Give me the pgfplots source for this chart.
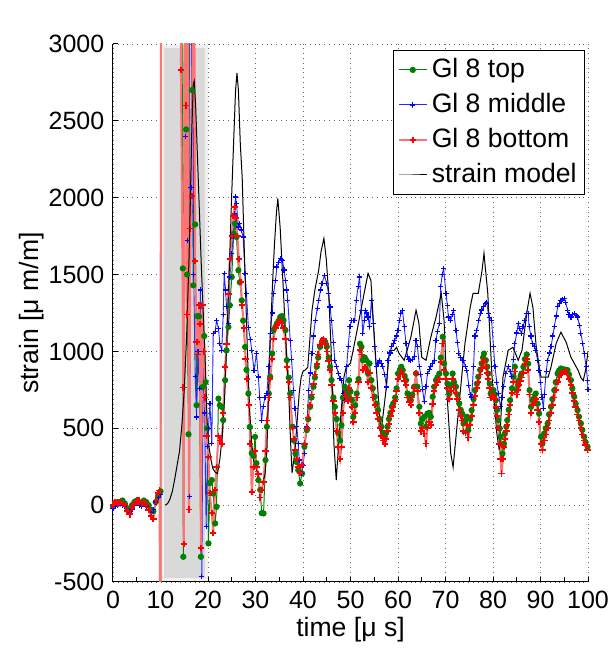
\documentclass[border=0pt]{standalone}
\usepackage{pgfplots}
\pgfplotsset{compat=1.18}
\usepackage{fontspec}
\setmainfont{Liberation Sans}
\definecolor{mgreen}{RGB}{0,128,0}
\definecolor{mblue}{RGB}{0,0,255}
\definecolor{mred}{RGB}{255,0,0}
\newcommand{\fs}{\fontsize{12.5}{15}\selectfont}
\newcommand{\fl}{\fontsize{13.3}{15.5}\selectfont}
\begin{document}
\fs
\begin{tikzpicture}
\begin{axis}[
 scale only axis, width=237.5pt, height=269pt,
 xmin=0, xmax=100, ymin=-500, ymax=3000,
 separate axis lines,
 axis x line*=bottom, axis y line*=left,
 x axis line style={-}, y axis line style={-},
 xtick={0,10,...,100}, xticklabels={0,10,20,30,40,50,60,70,80,90,100},
 minor xtick={5,15,...,95},
 ytick={-500,0,...,3000}, yticklabels={-500,0,500,1000,1500,2000,2500,3000},
 tick align=inside, major tick length=2.5pt, minor tick length=2.5pt,
 tick style={black, line width=0.5pt},
 axis line style={black, line width=0.5pt},
 grid=major, major grid style={dotted, black!60, line width=0.45pt},
 xlabel={time [μ s]}, ylabel={strain [μ m/m]},
 xlabel shift=-4pt, ylabel shift=-6pt,
 tick label style={font=\fs},
 label style={font=\fl},
 legend style={at={(0.994,0.989)}, anchor=north east, draw=black, fill=white,
   font=\fl, row sep=2pt, inner sep=2pt, line width=0.5pt},
 legend cell align=left,
 legend image code/.code={\draw[mark repeat=2,mark phase=2] plot coordinates {(0pt,0pt) (7pt,0pt) (14pt,0pt)};},
]
\coordinate (SW) at (rel axis cs:0,0);
\coordinate (NE) at (rel axis cs:1,1);
% shaded window
\addplot[fill=gray!30, draw=gray!12, line width=1.5pt, forget plot] coordinates {(10.4,-485) (19.6,-485) (19.6,2985) (10.4,2985)} -- cycle;

% Gl 8 top
\addplot[mgreen, line width=0.5pt, mark=*, mark size=1.3pt, mark options={solid, fill=mgreen, draw=mgreen}] coordinates {
(0,-10)(0.5,10)(1,20)(1.5,10)(2,30)(2.5,10)(3,-20)(3.5,-30)(4,0)(4.5,20)(5,30)(5.5,20)(6,10)(6.5,30)(7,20)(7.5,0)(8,-30)(8.5,-40)(9,20)(9.5,60)(10,90)(10.05,-1500)(10.1,4500)(14.4,4500)(14.7,1540)(14.8,-336)(15.1,4500)(15.4,2444)(15.6,1500)(15.9,461)(16.2,4500)(16.6,2700)(16.9,1430)(17.3,1826)(17.6,650)(17.8,1230)(18.1,1228)(18.5,-336)(18.8,767)(19.2,1100)(19.5,800)(19.8,500)(20.1,-249)(20.4,143)(20.8,163)(21.1,76)(21.5,-119)(21.8,-11)(22.2,693)(22.5,650)(22.9,639)(23.2,553)(23.6,813)(23.9,1007)(24.3,1159)(24.6,1300)(25,1484)(25.4,1766)(25.7,1831)(26,1744)(26.4,1528)(26.7,1450)(27.1,1332)(27.4,1200)(27.8,1029)(28.1,880)(28.5,726)(28.8,509)(29.2,338)(29.6,320)(29.9,444)(30.2,273)(30.6,163)(31,100)(31.3,-52)(31.7,-54)(32.1,293)(32.4,510)(32.8,726)(33.1,835)(33.5,986)(33.8,1138)(34.2,1160)(34.5,1181)(34.9,1200)(35.2,1224)(35.6,1230)(35.9,1203)(36.3,1138)(36.6,943)(37,830)(37.3,726)(37.8,510)(38.1,420)(38.4,336)(38.7,280)(39,228)(39.4,141)(39.8,206)(40.3,380)(40.8,488)(41.1,560)(41.5,640)(41.8,700)(42.2,770)(42.5,830)(42.9,900)(43.2,960)(43.6,1030)(44,1060)(44.3,1073)(44.7,1060)(45,1030)(45.4,960)(45.7,900)(46,813)(46.4,700)(46.7,640)(47.1,560)(47.4,470)(47.8,420)(48.1,520)(48.4,700)(48.8,770)(49.1,740)(49.4,705)(49.7,813)(50,740)(50.3,683)(50.6,575)(51,650)(51.3,726)(51.7,820)(52,1050)(52.3,1030)(52.6,943)(53,960)(53.3,943)(53.7,856)(54,922)(54.4,813)(54.7,760)(55.1,705)(55.5,660)(55.8,618)(56.2,560)(56.5,510)(56.9,470)(57.2,445)(57.5,470)(57.8,510)(58.1,560)(58.4,600)(58.7,640)(59,661)(59.4,700)(59.7,760)(60,856)(60.4,880)(60.7,900)(61,878)(61.4,840)(61.7,813)(62,726)(62.4,700)(62.7,683)(63,720)(63.4,770)(63.8,856)(64.1,770)(64.5,640)(64.8,531)(65.1,560)(65.5,575)(65.9,510)(66.2,596)(66.6,600)(66.9,575)(67.3,705)(67.6,770)(68,813)(68.3,830)(68.7,856)(69,960)(69.4,1095)(69.7,922)(70.1,856)(70.4,791)(70.8,726)(71.1,780)(71.5,856)(71.8,800)(72.2,770)(72.5,720)(72.9,661)(73.2,620)(73.5,596)(73.8,531)(74.2,553)(74.5,575)(74.8,488)(75.2,560)(75.5,618)(75.9,690)(76.2,748)(76.6,790)(76.9,835)(77.3,880)(77.6,922)(77.9,960)(78.1,986)(78.5,943)(78.8,900)(79,856)(79.3,790)(79.5,726)(79.8,740)(80.1,748)(80.4,720)(80.6,683)(80.9,620)(81.1,553)(81.4,500)(81.6,445)(82,336)(82.3,400)(82.5,466)(82.8,510)(83,553)(83.3,620)(83.6,683)(84,760)(84.3,835)(84.6,900)(85,748)(85.3,780)(85.5,813)(85.8,840)(86,856)(86.4,900)(86.7,950)(87.1,980)(87.4,920)(87.7,748)(88,640)(88.3,683)(88.7,700)(89,726)(89.4,660)(89.7,596)(90.1,445)(90.4,401)(90.8,466)(91.1,500)(91.5,531)(91.8,590)(92.2,640)(92.5,690)(92.9,748)(93.2,800)(93.6,856)(93.9,875)(94.3,889)(94.6,885)(95,882)(95.3,880)(95.7,878)(96,850)(96.4,813)(96.7,760)(97.1,705)(97.4,660)(97.8,618)(98.1,575)(98.5,531)(98.8,490)(99.2,445)(99.5,410)(99.9,380)
};
\addlegendentry{Gl 8 top}

% Gl 8 middle
\addplot[mblue!85, line width=0.45pt, mark=+, mark size=1.3pt, mark options={solid, draw=mblue, line width=0.6pt}] coordinates {
(0,-20)(0.5,-10)(1,0)(1.5,10)(2,0)(2.5,-10)(3,-40)(3.5,-50)(4,-30)(4.5,0)(5,10)(5.5,0)(6,-10)(6.5,10)(7,-10)(7.5,-30)(8,-50)(8.5,-30)(9,20)(9.5,50)(10,70)(10.1,4500)(15,4500)(15.3,2398)(15.6,1722)(15.9,4500)(16.1,54)(16.4,2067)(16.7,4500)(17,1500)(17.3,838)(17.6,574)(17.9,1000)(18.2,760)(18.4,1400)(18.7,-466)(19,1000)(19.3,600)(19.6,-141)(19.9,379)(20.1,500)(20.4,661)(20.8,400)(21.1,1118)(21.5,1127)(21.8,1202)(22.2,1150)(22.5,1050)(22.9,1007)(23.2,1239)(23.4,1506)(23.7,1400)(23.9,1291)(24.3,1180)(24.6,1484)(25,1635)(25.3,1750)(25.6,1894)(25.8,2005)(26,1960)(26.4,1810)(26.7,1830)(27,1790)(27.4,1744)(27.8,1506)(28.1,1375)(28.5,1158)(28.9,1080)(29.2,1007)(29.7,878)(30.2,986)(30.6,834)(30.9,700)(31.3,553)(31.6,640)(32,700)(32.4,726)(32.8,900)(33.1,1116)(33.5,1250)(33.8,1376)(34.2,1460)(34.5,1549)(34.9,1580)(35.2,1603)(35.5,1600)(35.7,1593)(36,1530)(36.3,1463)(36.6,1400)(36.8,1333)(37.3,1073)(37.6,950)(38,748)(38.3,630)(38.7,510)(39,400)(39.2,293)(39.7,206)(40,260)(40.3,336)(40.8,510)(41.2,748)(41.5,860)(41.9,986)(42.2,1100)(42.6,1203)(43,1280)(43.3,1333)(43.7,1400)(44,1441)(44.5,1495)(45,1441)(45.4,1376)(45.7,1289)(46,1200)(46.4,1060)(46.7,943)(47.1,900)(47.4,856)(47.8,823)(48.1,813)(48.5,726)(48.8,683)(49.2,900)(49.5,1030)(49.9,1160)(50.2,1203)(50.6,1200)(50.9,1203)(51.2,1333)(51.6,1420)(51.9,1484)(52.3,1268)(52.6,1116)(52.9,1200)(53.1,1268)(53.4,1250)(53.7,1224)(54,1160)(54.4,1333)(54.8,1180)(55.1,1030)(55.4,900)(55.8,920)(56.1,943)(56.5,920)(56.8,900)(57.2,850)(57.6,769)(57.9,943)(58.3,990)(58.6,1030)(59,1050)(59.3,1073)(59.7,1100)(60,1138)(60.3,1200)(60.6,1246)(60.95,1268)(61.3,1160)(61.7,1050)(62,965)(62.3,950)(62.7,943)(63,950)(63.4,965)(63.8,1073)(64.1,1030)(64.5,900)(64.8,850)(65.2,750)(65.5,672)(65.9,770)(66.2,856)(66.6,880)(66.9,900)(67.3,920)(67.6,943)(68,1073)(68.3,1130)(68.7,1181)(69,1420)(69.3,1500)(69.6,1538)(70.1,1376)(70.4,1300)(70.6,1224)(71.1,1203)(71.4,1240)(71.7,1268)(72.2,1138)(72.5,1060)(72.8,986)(73.2,960)(73.5,943)(73.8,943)(74.2,900)(74.5,878)(74.9,780)(75.2,720)(75.5,704)(75.9,900)(76.2,1100)(76.6,1138)(77,1200)(77.3,1246)(77.6,1270)(78,1290)(78.5,1313)(78.7,1320)(79,1246)(79.3,1220)(79.7,1203)(80.1,1030)(80.4,900)(80.8,800)(81.1,726)(81.6,640)(81.9,700)(82.2,770)(82.7,856)(83.2,900)(83.6,870)(83.9,835)(84.3,950)(84.6,1051)(85,1120)(85.3,1181)(85.6,1150)(86,1116)(86.3,1160)(86.7,1203)(87,1246)(87.4,1248)(87.6,1160)(88,1100)(88.3,1051)(88.7,1030)(89,1008)(89.4,940)(89.7,878)(90,800)(90.3,700)(90.6,630)(90.8,720)(91.2,870)(91.5,943)(91.9,990)(92.2,1030)(92.6,1100)(92.9,1160)(93.3,1230)(93.6,1290)(94,1310)(94.3,1333)(94.7,1340)(95,1345)(95.3,1320)(95.7,1268)(96,1240)(96.4,1224)(96.8,1240)(97.1,1246)(97.5,1235)(97.8,1224)(98.2,1170)(98.5,1116)(98.9,1050)(99.2,986)(99.6,900)(99.9,813)(100,750)
};
\addlegendentry{Gl 8 middle}

% Gl 8 bottom
\addplot[mred!55, line width=1pt, mark=+, mark size=1.6pt, mark options={solid, draw=mred, line width=0.9pt}] coordinates {
(0,0)(0.5,20)(1,10)(1.5,20)(2,10)(2.5,0)(3,-40)(3.5,-60)(4,-20)(4.5,10)(5,30)(5.5,30)(6,10)(6.5,20)(7,0)(7.5,-30)(8,-70)(8.5,-90)(9,30)(9.5,80)(9.8,95)(10,-1500)(10.1,4500)(14,4500)(14.3,2830)(14.8,765)(14.9,-254)(15.2,4500)(15.4,2600)(15.6,1240)(15.8,3500)(16,-28)(16.3,1800)(16.6,2010)(17,4500)(17.3,1590)(17.6,1060)(17.8,980)(18.1,1300)(18.3,1180)(18.5,-280)(18.8,1300)(19.1,1000)(19.4,700)(19.7,450)(20.1,314)(20.4,78)(20.8,-52)(21.1,-182)(21.5,100)(21.8,250)(22.2,450)(22.5,420)(22.9,400)(23.2,600)(23.6,900)(23.9,1050)(24.3,1375)(24.6,1600)(25,1750)(25.3,1880)(25.6,1939)(25.9,1870)(26.2,1750)(26.5,1600)(26.9,1450)(27.2,1300)(27.6,1150)(27.9,950)(28.2,820)(28.6,650)(28.9,400)(29.2,87)(29.6,250)(29.9,350)(30.2,250)(30.6,200)(31,50)(31.3,100)(31.7,150)(32.1,350)(32.4,550)(32.8,700)(33.1,820)(33.5,950)(33.8,1080)(34.2,1150)(34.5,1170)(34.9,1190)(35.2,1200)(35.6,1181)(35.9,1150)(36.3,1080)(36.6,900)(37,800)(37.3,700)(37.8,500)(38.1,430)(38.4,360)(38.7,300)(39,250)(39.4,210)(39.8,260)(40.3,400)(40.8,500)(41.1,570)(41.5,650)(41.8,720)(42.2,790)(42.5,850)(42.9,920)(43.2,980)(43.6,1040)(44,1070)(44.3,1080)(44.7,1050)(45,1000)(45.4,940)(45.7,880)(46,780)(46.4,680)(46.7,600)(47.1,480)(47.4,380)(47.8,300)(48.1,380)(48.4,600)(48.8,720)(49.1,700)(49.4,680)(49.7,760)(50,700)(50.3,640)(50.6,540)(51,600)(51.3,700)(51.7,800)(52,1010)(52.3,980)(52.6,880)(53,900)(53.3,880)(53.7,800)(54,860)(54.4,760)(54.7,700)(55.1,650)(55.5,600)(55.8,560)(56.2,500)(56.5,450)(56.9,420)(57.2,400)(57.5,430)(57.8,480)(58.1,530)(58.4,580)(58.7,610)(59,640)(59.4,680)(59.7,740)(60,820)(60.4,850)(60.7,870)(61,850)(61.4,810)(61.7,780)(62,700)(62.4,670)(62.7,650)(63,700)(63.4,760)(63.8,860)(64.1,740)(64.5,600)(64.8,480)(65.1,500)(65.5,466)(65.9,401)(66.2,500)(66.6,540)(66.9,520)(67.3,660)(67.6,740)(68,780)(68.3,800)(68.7,820)(69,930)(69.4,1051)(69.7,880)(70.1,820)(70.4,760)(70.8,690)(71.1,740)(71.5,820)(71.8,770)(72.2,730)(72.5,690)(72.9,620)(73.2,580)(73.5,550)(73.8,480)(74.2,470)(74.5,520)(74.8,440)(75.2,520)(75.5,580)(75.9,650)(76.2,710)(76.6,760)(76.9,800)(77.3,850)(77.6,890)(77.9,930)(78.1,943)(78.5,900)(78.8,860)(79,820)(79.3,760)(79.5,700)(79.8,710)(80.1,720)(80.4,690)(80.6,640)(80.9,580)(81.1,500)(81.4,400)(81.6,300)(81.8,206)(82.1,300)(82.3,380)(82.5,430)(82.8,480)(83,520)(83.3,590)(83.6,650)(84,730)(84.3,800)(84.6,870)(85,720)(85.3,750)(85.5,780)(85.8,810)(86,830)(86.4,860)(86.7,920)(87.1,950)(87.4,880)(87.7,720)(88,600)(88.3,650)(88.7,670)(89,690)(89.4,620)(89.7,540)(90.1,400)(90.4,360)(90.8,420)(91.1,460)(91.5,500)(91.8,550)(92.2,600)(92.5,650)(92.9,700)(93.2,750)(93.6,800)(93.9,830)(94.3,850)(94.6,860)(95,865)(95.3,870)(95.7,850)(96,820)(96.4,780)(96.7,730)(97.1,680)(97.4,640)(97.8,590)(98.1,550)(98.5,500)(98.8,460)(99.2,420)(99.5,390)(99.9,358)
};
\addlegendentry{Gl 8 bottom}

% strain model
\addplot[black, line width=0.5pt, mark=none] coordinates {
(11,0)(11.5,10)(12,40)(12.5,90)(13,170)(13.5,260)(14,350)(14.5,520)(15,750)(15.5,1100)(16,1600)(16.3,2000)(16.6,2450)(16.9,2740)(17.1,2760)(17.4,2600)(17.8,2250)(18.2,1900)(18.6,1550)(19,1250)(19.4,950)(19.8,550)(20.2,380)(20.6,300)(21,240)(21.5,215)(22,205)(22.5,300)(23,450)(23.5,700)(24,1100)(24.5,1550)(25,2030)(25.5,2450)(25.8,2700)(26.1,2810)(26.4,2700)(26.8,2350)(27.2,2130)(27.6,1700)(28,1300)(28.4,900)(28.8,600)(29.2,400)(29.6,290)(30,250)(30.5,200)(31,150)(31.5,145)(32,200)(32.4,350)(32.8,800)(33.2,1150)(33.6,1450)(34,1700)(34.4,1900)(34.7,1995)(35.2,1800)(35.9,1376)(36.5,1000)(37,726)(37.4,400)(37.7,208)(38.3,350)(39.2,728)(39.6,830)(40,870)(40.5,880)(41,897)(41.5,1100)(41.9,1268)(42.5,1400)(43.3,1528)(43.8,1650)(44.4,1735)(44.9,1600)(45.4,1378)(45.9,1029)(46.5,403)(47,163)(47.5,400)(48,598)(48.6,830)(49.1,899)(50,923)(50.5,1000)(51.1,1092)(52.2,1268)(53,1400)(53.7,1508)(54.3,1462)(54.8,1200)(55.1,1053)(55.8,728)(56.4,468)(57.4,728)(58.2,1007)(59.2,1007)(59.7,1027)(60.2,988)(61.3,942)(62.7,1092)(63.8,1268)(64.4,1183)(65,962)(65.9,942)(66.9,1092)(68,1222)(69.1,1378)(69.7,1202)(70.3,728)(71.1,338)(71.6,247)(72.4,507)(73.4,832)(74.1,1053)(75.2,1287)(75.8,1378)(76.9,1378)(77.7,1528)(78.1,1638)(78.9,1378)(79.8,832)(80.8,468)(81.3,357)(82.1,832)(83.2,1007)(84.2,1027)(85.3,942)(86.1,1007)(87.2,1268)(87.8,1378)(88.4,1287)(89.1,1027)(90.1,832)(91.6,832)(92.2,897)(93.3,1053)(94.3,1125)(95.4,1060)(96.4,962)(97.9,878)(98.5,830)(99,810)(99.5,880)(100,1000)
};
\addlegendentry{strain model}
\end{axis}
\pgfresetboundingbox
\path[use as bounding box] ([shift={(-56.5pt,-34.5pt)}]SW) rectangle ([shift={(11pt,22pt)}]NE);
\end{tikzpicture}
\end{document}
